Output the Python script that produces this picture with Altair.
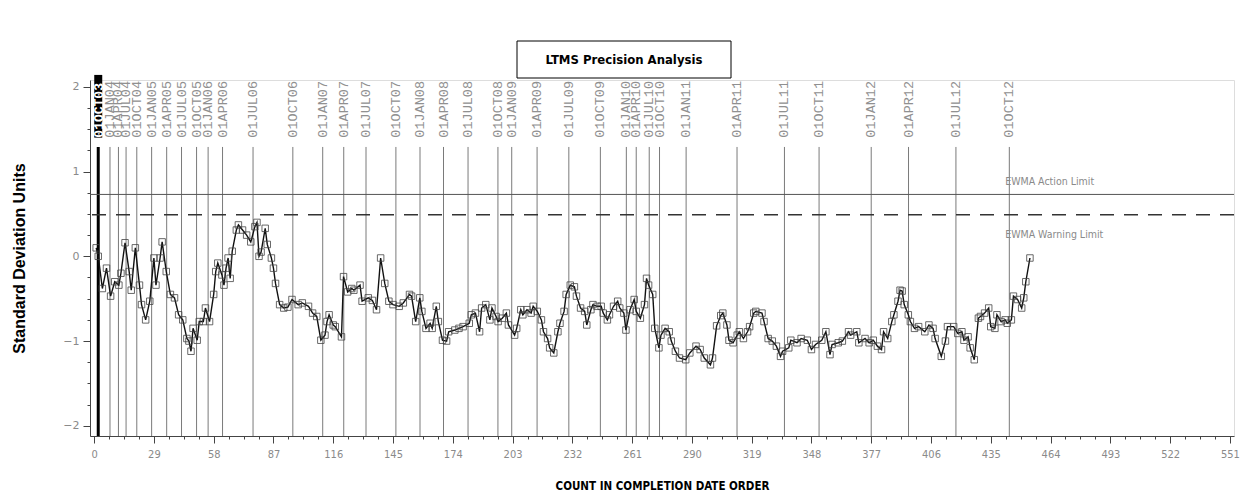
import altair as alt
import pandas as pd

# ---------------- data ----------------
counts = [1, 2, 4, 6, 8, 10, 12, 13, 15, 17, 18, 20, 22, 23, 25, 27, 29, 30, 32, 33,
          35, 37, 39, 41, 43, 45, 46, 47, 48, 50, 51, 53, 54, 56, 58, 59, 60, 62, 63, 64,
          65, 66, 67, 69, 70, 72, 74, 76, 78, 79, 80, 81, 83, 84, 86, 87, 88, 90, 92, 94,
          96, 99, 101, 104, 106, 108, 110, 112, 113, 114, 116, 117, 120, 121, 123, 125, 126, 129, 130, 133,
          135, 137, 139, 141, 143, 145, 148, 150, 153, 154, 156, 158, 159, 161, 163, 164, 166, 167, 169, 171,
          172, 175, 177, 179, 182, 183, 185, 187, 188, 190, 192, 193, 195, 196, 198, 200, 201, 204, 205, 207,
          208, 210, 212, 213, 215, 217, 218, 220, 221, 223, 225, 226, 228, 229, 231, 233, 234, 236, 238, 239,
          241, 242, 244, 246, 247, 249, 250, 252, 254, 255, 257, 258, 260, 262, 263, 265, 267, 268, 269, 271,
          272, 274, 275, 277, 279, 280, 282, 284, 287, 289, 292, 294, 296, 299, 300, 302, 304, 305, 307, 308,
          310, 312, 313, 315, 317, 318, 320, 321, 324, 325, 327, 329, 331, 333, 334, 337, 338, 341, 343, 346,
          348, 350, 353, 355, 357, 358, 361, 363, 366, 367, 370, 371, 374, 376, 378, 380, 382, 383, 385, 387,
          388, 390, 391, 392, 393, 395, 396, 398, 400, 403, 405, 407, 408, 411, 413, 414, 417, 419, 421, 422,
          424, 425, 427, 429, 430, 432, 434, 435, 437, 438, 440, 442, 443, 445, 446, 448, 450, 451, 452, 454]
values = [0.10, 0.00, -0.38, -0.14, -0.47, -0.30, -0.34, -0.20, 0.16, -0.18, -0.40, 0.10, -0.34, -0.57, -0.75, -0.53, -0.02, -0.34, -0.02, 0.17,
          -0.18, -0.45, -0.49, -0.69, -0.75, -0.97, -1.00, -1.12, -0.85, -0.99, -0.77, -0.77, -0.61, -0.77, -0.45, -0.18, -0.08, -0.22, -0.34, -0.14,
          -0.02, -0.26, 0.06, 0.31, 0.37, 0.31, 0.25, 0.17, 0.35, 0.40, 0.00, 0.05, 0.33, 0.14, -0.02, -0.14, -0.32, -0.57, -0.61, -0.60,
          -0.51, -0.57, -0.55, -0.59, -0.67, -0.71, -0.99, -0.93, -0.77, -0.69, -0.81, -0.83, -0.95, -0.24, -0.42, -0.38, -0.40, -0.34, -0.53, -0.49,
          -0.52, -0.63, -0.02, -0.32, -0.53, -0.57, -0.59, -0.55, -0.45, -0.47, -0.77, -0.49, -0.65, -0.85, -0.79, -0.85, -0.59, -0.77, -0.99, -1.00,
          -0.89, -0.87, -0.85, -0.83, -0.79, -0.69, -0.67, -0.89, -0.61, -0.57, -0.75, -0.61, -0.71, -0.77, -0.73, -0.67, -0.81, -0.93, -0.85, -0.63,
          -0.69, -0.63, -0.67, -0.59, -0.65, -0.75, -0.89, -0.97, -1.08, -1.14, -0.89, -0.79, -0.65, -0.45, -0.34, -0.36, -0.47, -0.61, -0.65, -0.81,
          -0.63, -0.57, -0.59, -0.59, -0.67, -0.75, -0.69, -0.59, -0.53, -0.61, -0.67, -0.87, -0.63, -0.51, -0.65, -0.73, -0.57, -0.26, -0.34, -0.45,
          -0.85, -1.08, -0.93, -0.85, -0.89, -1.00, -1.12, -1.20, -1.22, -1.14, -1.06, -1.10, -1.20, -1.28, -1.20, -0.82, -0.70, -0.67, -0.81, -0.99,
          -1.02, -0.93, -0.89, -0.97, -0.89, -0.83, -0.67, -0.65, -0.67, -0.77, -0.97, -1.00, -1.06, -1.18, -1.12, -1.08, -0.99, -1.02, -0.97, -0.99,
          -1.10, -1.04, -0.99, -0.89, -1.16, -1.04, -1.02, -1.00, -0.89, -0.93, -0.89, -1.02, -0.97, -1.02, -0.99, -1.06, -1.10, -0.89, -0.97, -0.77,
          -0.69, -0.53, -0.40, -0.41, -0.57, -0.69, -0.77, -0.85, -0.83, -0.89, -0.81, -0.85, -0.97, -1.18, -1.00, -0.83, -0.83, -0.91, -0.89, -0.99,
          -0.95, -1.08, -1.22, -0.73, -0.71, -0.67, -0.61, -0.83, -0.85, -0.69, -0.77, -0.75, -0.79, -0.75, -0.47, -0.51, -0.61, -0.49, -0.30, -0.02]

date_labels = ["01OCT03", "01JAN04", "01APR04", "01JUL04", "01OCT04", "01JAN05", "01APR05", "01JUL05",
               "01OCT05", "01JAN06", "01APR06", "01JUL06", "01OCT06", "01JAN07", "01APR07", "01JUL07",
               "01OCT07", "01JAN08", "01APR08", "01JUL08", "01OCT08", "01JAN09", "01APR09", "01JUL09",
               "01OCT09", "01JAN10", "01APR10", "01JUL10", "01OCT10", "01JAN11", "01APR11", "01JUL11",
               "01OCT11", "01JAN12", "01APR12", "01JUL12", "01OCT12"]
date_counts = [2.0, 7.7, 11.8, 15.5, 20.7, 27.9, 35.2, 42.4, 49.7, 55.3, 62.3, 77.1, 96.4, 110.9, 121.1,
               131.9, 146.4, 158.1, 169.5, 181.4, 195.9, 202.6, 214.9, 230.3, 245.6, 258.2, 263.0, 269.3,
               274.3, 287.2, 311.9, 334.9, 351.7, 377.0, 395.1, 418.1, 444.0]

x_ticks = [0, 29, 58, 87, 116, 145, 174, 203, 232, 261, 290, 319, 348, 377, 406, 435, 464, 493, 522, 551]
y_ticks = [-2, -1, 0, 1, 2]
limit_names = ["EWMA Action Limit", "EWMA Warning Limit"]
limit_values = [0.73, 0.49]
limit_label_x = [442.0, 442.0]
limit_label_y = [0.88, 0.25]
chart_title = "LTMS Precision Analysis"
x_title = "COUNT IN COMPLETION DATE ORDER"
y_title = "Standard Deviation Units"

# ---------------- layout constants ----------------
XDOM = [-2, 553]
YDOM = [-2.12, 2.08]
LABEL_Y = 1.40
LINE_TOP = 1.29
BOX_TOP = 2.14
W, H = 1144, 356

x_minor = [i * 7.25 for i in range(77) if i % 4]
y_minor = [-2 + i * 0.25 for i in range(17) if i % 4]

df = pd.DataFrame({"count": counts, "value": values})
dates = pd.DataFrame({"label": date_labels, "count": date_counts})
dates["top"] = LINE_TOP
dates["bottom"] = YDOM[0]
dates["ly"] = LABEL_Y
dates["boxtop"] = BOX_TOP
first = dates.iloc[:1]
rest = dates.iloc[1:]
limits = pd.DataFrame({"name": limit_names, "v": limit_values,
                       "lx": limit_label_x, "ly": limit_label_y})

def xs():
    return alt.Scale(domain=XDOM, nice=False, zero=False)

def ys():
    return alt.Scale(domain=YDOM, nice=False, zero=False)

LBL = "#8a8a8a"
AX = "#444444"
NARROW = "DejaVu Sans Condensed, Liberation Sans Narrow, Liberation Sans, Arial"

major_x = alt.Axis(values=x_ticks, orient="bottom", grid=False, tickSize=7, labelPadding=5,
                   labelColor=LBL, labelFontSize=11, labelFont=NARROW,
                   domainColor=AX, tickColor=AX, title=x_title, titleFont=NARROW,
                   titleFontWeight="bold", titleFontSize=11.5, titleColor="#000", titleY=44)
major_y = alt.Axis(values=y_ticks, orient="left", grid=False, tickSize=7, labelPadding=4,
                   labelColor=LBL, labelFontSize=11, labelFont="DejaVu Sans",
                   domainColor=AX, tickColor=AX, title=y_title, titleFont="Liberation Sans",
                   titleFontWeight="bold", titleFontSize=16, titleColor="#000",
                   titleX=-63, titleY=H / 2)
minor_x = alt.Axis(values=x_minor, orient="bottom", labels=False, title=None, grid=False,
                   domain=False, tickSize=3, tickColor=AX)
minor_y = alt.Axis(values=y_minor, orient="left", labels=False, title=None, grid=False,
                   domain=False, tickSize=3, tickColor=AX)

vlines = alt.Chart(rest).mark_rule(color="#7a7a7a", strokeWidth=1).encode(
    x=alt.X("count:Q", scale=xs(), axis=None),
    y=alt.Y("top:Q", scale=ys(), axis=None),
    y2="bottom:Q",
)
first_line = alt.Chart(first).mark_rule(color="#000", strokeWidth=3).encode(
    x=alt.X("count:Q", scale=xs(), axis=None),
    y=alt.Y("top:Q", scale=ys(), axis=None),
    y2="bottom:Q",
)
first_box = alt.Chart(first).mark_rule(color="#000", strokeWidth=8).encode(
    x=alt.X("count:Q", scale=xs(), axis=None),
    y=alt.Y("ly:Q", scale=ys(), axis=None),
    y2="boxtop:Q",
)
first_text = alt.Chart(first).mark_text(angle=270, align="left", baseline="middle",
                                        font="Liberation Mono", fontSize=13, color="#fff",
                                        fontWeight="bold", dy=1).encode(
    x=alt.X("count:Q", scale=xs(), axis=None),
    y=alt.Y("ly:Q", scale=ys(), axis=None),
    text="label:N",
)
date_text = alt.Chart(rest).mark_text(angle=270, align="left", baseline="middle",
                                      font="Liberation Mono", fontSize=13.5, color="#909090").encode(
    x=alt.X("count:Q", scale=xs(), axis=None),
    y=alt.Y("ly:Q", scale=ys(), axis=None),
    text="label:N",
)
action = alt.Chart(limits.iloc[:1]).mark_rule(color="#555", strokeWidth=1).encode(
    y=alt.Y("v:Q", scale=ys(), axis=None))
warning = alt.Chart(limits.iloc[1:]).mark_rule(color="#333", strokeWidth=1.6,
                                               strokeDash=[14, 10]).encode(
    y=alt.Y("v:Q", scale=ys(), axis=None))
limit_text = alt.Chart(limits).mark_text(align="left", baseline="middle", font=NARROW,
                                         fontSize=10.5, color="#8a8a8a").encode(
    x=alt.X("lx:Q", scale=xs(), axis=None),
    y=alt.Y("ly:Q", scale=ys(), axis=None),
    text="name:N",
)
line = alt.Chart(df).mark_line(color="#111", strokeWidth=1.4).encode(
    x=alt.X("count:Q", scale=xs(), axis=major_x),
    y=alt.Y("value:Q", scale=ys(), axis=major_y),
)
points = alt.Chart(df).mark_point(shape="square", filled=False, size=42, color="#444",
                                  strokeWidth=0.8, opacity=1).encode(
    x=alt.X("count:Q", scale=xs(), axis=minor_x),
    y=alt.Y("value:Q", scale=ys(), axis=minor_y),
)
title_box = alt.Chart(alt.Data(values=[{"t": chart_title}])).mark_rect(
    fill="#fff", stroke="#000", strokeWidth=1).encode(
    x=alt.value(427), x2=alt.value(641), y=alt.value(-39), y2=alt.value(-2))
title_text = alt.Chart(alt.Data(values=[{"t": chart_title}])).mark_text(
    font=NARROW, fontWeight="bold", fontSize=13, color="#000", align="center",
    baseline="middle").encode(x=alt.value(534), y=alt.value(-20), text="t:N")

chart = alt.layer(
    vlines, first_line, action, warning, date_text, first_box, first_text,
    line, points, limit_text, title_box, title_text
).resolve_scale(x="independent", y="independent").resolve_axis(
    x="independent", y="independent"
).properties(
    width=W, height=H,
    autosize=alt.AutoSizeParams(type="none"),
    padding={"left": 82, "top": 72, "right": 8, "bottom": 55},
).configure_view(stroke=None).configure(background="#ffffff")

chart.save("out.html", embed_options={"renderer": "svg", "actions": False})
